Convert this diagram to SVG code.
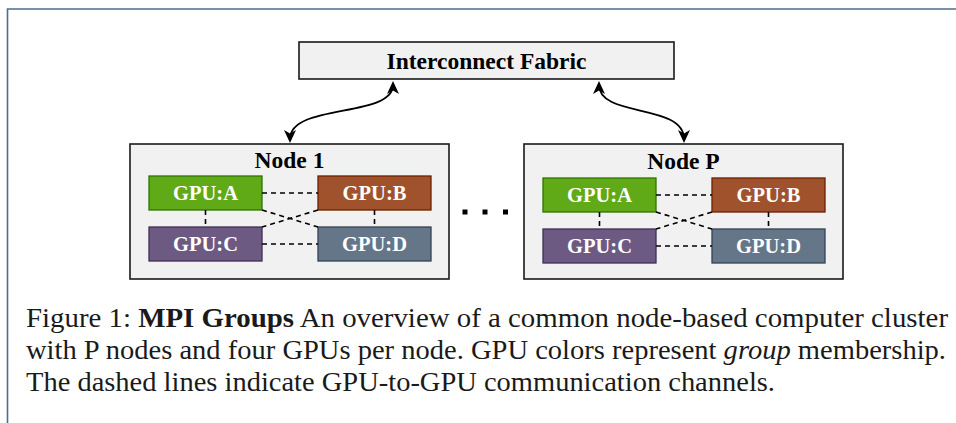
<svg xmlns="http://www.w3.org/2000/svg" width="956" height="423" viewBox="0 0 956 423">
<defs>
<style>
.frame{fill:none;stroke:#4f6b8f;stroke-width:1.6}
.box{fill:#f1f1f1;stroke:#1a1a1a;stroke-width:1.6}
.title{font-family:"Liberation Serif",serif;font-weight:bold;font-size:23.5px;fill:#000;text-anchor:middle}
.gpu{font-family:"Liberation Serif",serif;font-weight:bold;font-size:20.5px;fill:#fff;text-anchor:middle}
.ga{fill:#60a917;stroke:#2d7600;stroke-width:1.3}
.gb{fill:#a0522d;stroke:#6d1f00;stroke-width:1.3}
.gc{fill:#6c5a83;stroke:#432d57;stroke-width:1.3}
.gd{fill:#647687;stroke:#314354;stroke-width:1.3}
.dash{stroke:#000;stroke-width:1.6;stroke-dasharray:5 4;fill:none}
.arrow{stroke:#000;stroke-width:1.8;fill:none;marker-start:url(#ah);marker-end:url(#ah)}
.cap{font-family:"Liberation Serif",serif;font-size:26.5px;fill:#1a1a1a}
</style>
<marker id="ah" viewBox="0 0 13 12" refX="9" refY="6" markerWidth="13" markerHeight="12" markerUnits="userSpaceOnUse" orient="auto-start-reverse">
<path d="M0,0 L13,6 L0,12 L3.5,6 z" fill="#000"/>
</marker>
</defs>
<path class="frame" d="M7.5,423 L7.5,9 L956,9"/>

<g id="interconnect">
<rect class="box" x="299" y="42" width="375" height="37"/>
<text class="title" x="486.5" y="68.5">Interconnect Fabric</text>
</g>

<g id="node1">
<rect class="box" x="130" y="144" width="319" height="135"/>
<text class="title" x="289.5" y="168">Node 1</text>
</g>
<g id="node1-gpuA"><rect class="ga" x="149" y="176" width="113" height="34"/><text class="gpu" x="205.5" y="200">GPU:A</text></g>
<g id="node1-gpuB"><rect class="gb" x="318" y="176" width="113" height="34"/><text class="gpu" x="374.5" y="200">GPU:B</text></g>
<g id="node1-gpuC"><rect class="gc" x="149" y="227" width="113" height="34"/><text class="gpu" x="205.5" y="251">GPU:C</text></g>
<g id="node1-gpuD"><rect class="gd" x="318" y="227" width="113" height="34"/><text class="gpu" x="374.5" y="251">GPU:D</text></g>

<g id="ellipsis">
<rect x="462.5" y="209.5" width="5" height="5" fill="#000"/>
<rect x="482.5" y="209.5" width="5" height="5" fill="#000"/>
<rect x="503" y="209.5" width="5" height="5" fill="#000"/>
</g>

<g id="nodeP">
<rect class="box" x="524" y="144" width="319" height="135"/>
<text class="title" x="683.5" y="168.5">Node P</text>
</g>
<g id="nodeP-gpuA"><rect class="ga" x="543" y="178" width="113" height="34"/><text class="gpu" x="599.5" y="202">GPU:A</text></g>
<g id="nodeP-gpuB"><rect class="gb" x="712" y="178" width="113" height="34"/><text class="gpu" x="768.5" y="202">GPU:B</text></g>
<g id="nodeP-gpuC"><rect class="gc" x="543" y="229" width="113" height="34"/><text class="gpu" x="599.5" y="253">GPU:C</text></g>
<g id="nodeP-gpuD"><rect class="gd" x="712" y="229" width="113" height="34"/><text class="gpu" x="768.5" y="253">GPU:D</text></g>

<g id="connectors">
<path class="arrow" d="M393,85 C393,118 290,103 290,139"/>
<path class="arrow" d="M599,85 C599,118 684,103 684,139"/>
<g id="node1-links">
<line class="dash" x1="262" y1="193" x2="318" y2="193"/>
<line class="dash" x1="262" y1="244" x2="318" y2="244"/>
<line class="dash" x1="205.5" y1="210" x2="205.5" y2="227"/>
<line class="dash" x1="374.5" y1="210" x2="374.5" y2="227"/>
<line class="dash" x1="262" y1="210" x2="318" y2="227"/>
<line class="dash" x1="318" y1="210" x2="262" y2="227"/>
</g>
<g id="nodeP-links">
<line class="dash" x1="656" y1="195" x2="712" y2="195"/>
<line class="dash" x1="656" y1="246" x2="712" y2="246"/>
<line class="dash" x1="599.5" y1="212" x2="599.5" y2="229"/>
<line class="dash" x1="768.5" y1="212" x2="768.5" y2="229"/>
<line class="dash" x1="656" y1="212" x2="712" y2="229"/>
<line class="dash" x1="712" y1="212" x2="656" y2="229"/>
</g>
</g>

<g id="caption">
<text class="cap" x="26" y="327" textLength="922" lengthAdjust="spacingAndGlyphs">Figure 1: <tspan font-weight="bold">MPI Groups</tspan> An overview of a common node-based computer cluster</text>
<text class="cap" x="26" y="359" textLength="920" lengthAdjust="spacingAndGlyphs">with P nodes and four GPUs per node. GPU colors represent <tspan font-style="italic">group</tspan> membership.</text>
<text class="cap" x="26" y="391" textLength="749" lengthAdjust="spacingAndGlyphs">The dashed lines indicate GPU-to-GPU communication channels.</text>
</g>
</svg>
